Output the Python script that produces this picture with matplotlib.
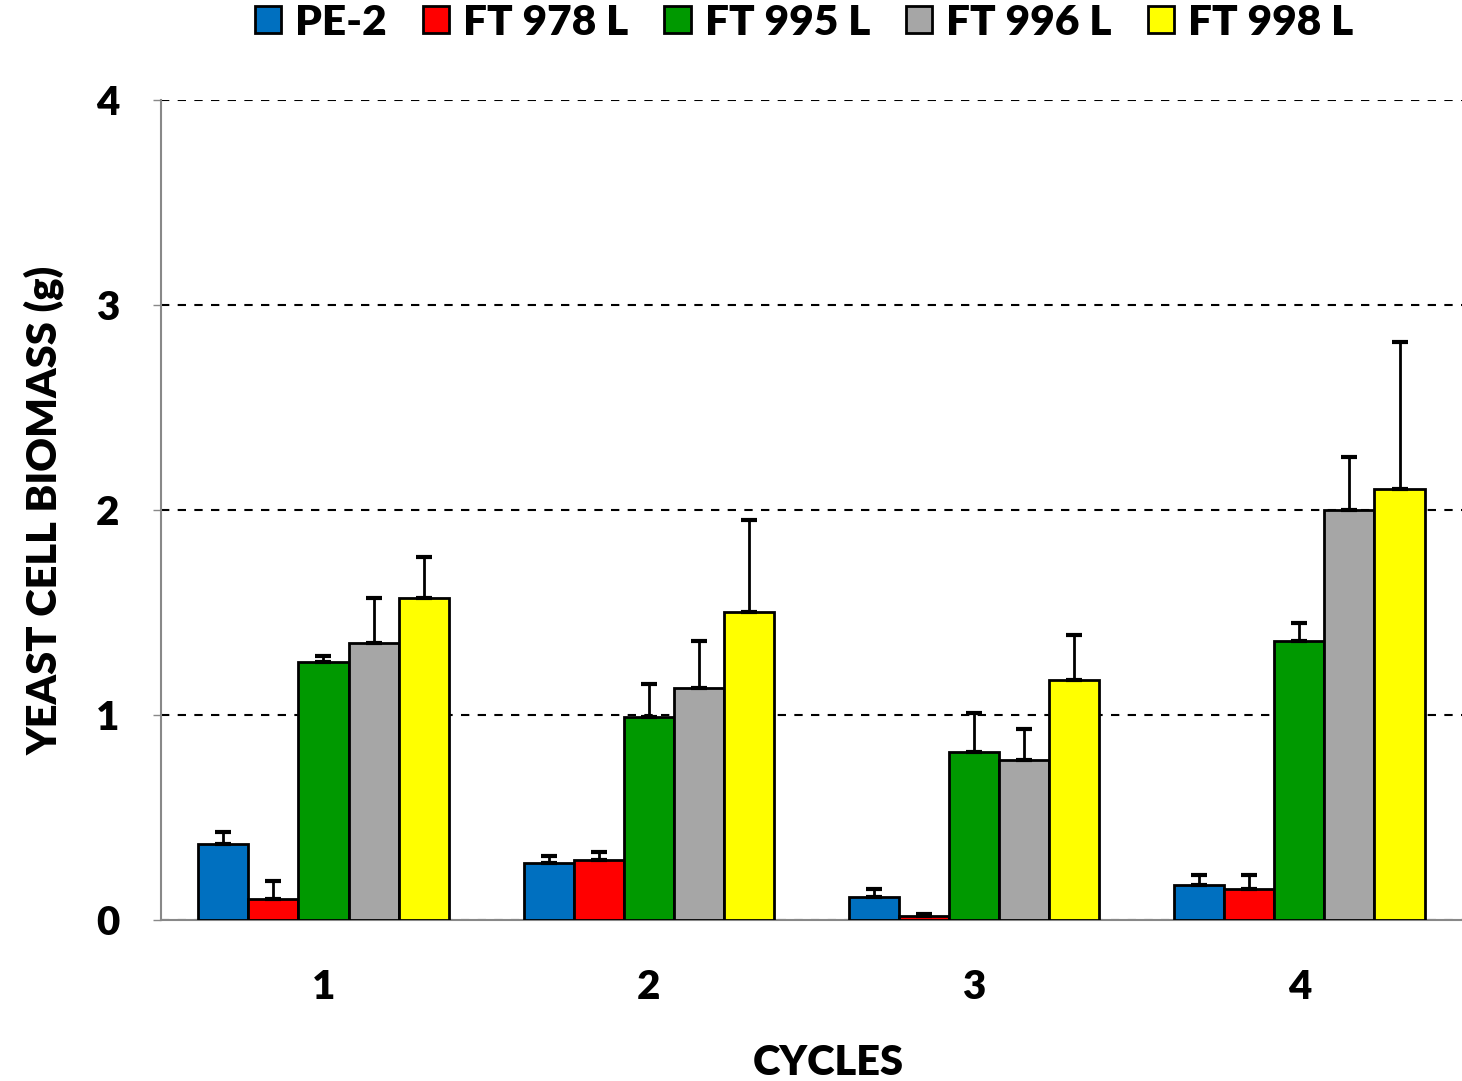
import numpy as np
import matplotlib.pyplot as plt

# data
cycles = ['1', '2', '3', '4']
strains = ['PE-2', 'FT 978 L', 'FT 995 L', 'FT 996 L', 'FT 998 L']
colors = ['#0070c0', '#ff0000', '#009900', '#a6a6a6', '#ffff00']
pe2 = [0.37, 0.28, 0.11, 0.17]
ft978 = [0.10, 0.29, 0.02, 0.15]
ft995 = [1.26, 0.99, 0.82, 1.36]
ft996 = [1.35, 1.13, 0.78, 2.00]
ft998 = [1.57, 1.50, 1.17, 2.10]
err_pe2 = [0.06, 0.03, 0.04, 0.05]
err_ft978 = [0.09, 0.04, 0.01, 0.07]
err_ft995 = [0.03, 0.16, 0.19, 0.09]
err_ft996 = [0.22, 0.23, 0.15, 0.26]
err_ft998 = [0.20, 0.45, 0.22, 0.72]

values = [pe2, ft978, ft995, ft996, ft998]
errors = [err_pe2, err_ft978, err_ft995, err_ft996, err_ft998]

plt.rcParams['font.family'] = ['Lato', 'DejaVu Sans']
plt.rcParams['font.weight'] = 'heavy'

fig = plt.figure(figsize=(14.62, 10.81), dpi=100)
ax = fig.add_axes([0.110, 0.149, 0.890, 0.7585])

x = np.arange(1, len(cycles) + 1)
width = 0.154
for i, (vals, errs) in enumerate(zip(values, errors)):
    pos = x + (i - 2) * width
    ax.bar(pos, vals, width, color=colors[i], edgecolor='k', lw=2,
           label=strains[i], zorder=3,
           yerr=[np.zeros(len(errs)), errs],
           error_kw=dict(ecolor='k', elinewidth=2, capsize=6, capthick=3, zorder=4))

ax.set_xlim(0.5, 4.5)
ax.set_ylim(0, 4)
ax.set_yticks([0, 1, 2, 3, 4])
ax.set_xticks(x)
ax.set_xticklabels(cycles)
ax.yaxis.grid(True, ls=(0, (4, 4)), color='k', lw=1.5, zorder=0)
ax.tick_params(axis='x', length=0, pad=35, labelsize=29)
ax.tick_params(axis='y', length=6, width=1, color='#888888', pad=24, labelsize=29)
for lab in ax.get_xticklabels() + ax.get_yticklabels():
    lab.set_fontweight('heavy')

# spines
ax.spines['right'].set_visible(False)
ax.spines['top'].set_visible(False)
ax.spines['left'].set_color('#888888')
ax.spines['bottom'].set_color('#888888')
ax.spines['left'].set_linewidth(1.5)
ax.spines['bottom'].set_linewidth(1.5)

ax.set_ylabel('YEAST CELL BIOMASS (g)', fontsize=30, fontweight='heavy', labelpad=22)
ax.set_xlabel('CYCLES', fontsize=30, fontweight='heavy', labelpad=28)
ax.xaxis.label.set_x(0.513)

leg = fig.legend(loc='upper center', bbox_to_anchor=(0.55, 1.032), ncol=5,
                 frameon=False, prop=dict(size=30.5, weight='heavy'),
                 handlelength=0.62, handleheight=0.62,
                 handletextpad=0.33, columnspacing=0.85)

plt.savefig('out.png', dpi=100)
